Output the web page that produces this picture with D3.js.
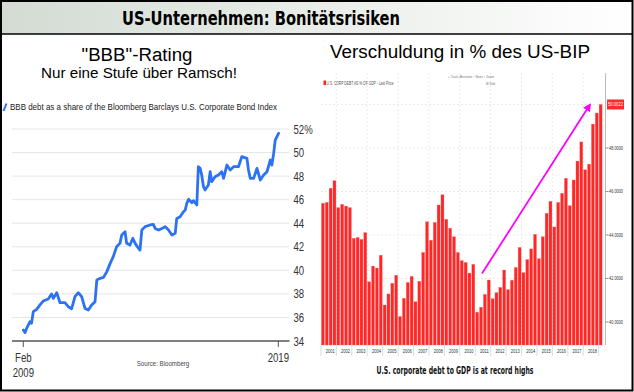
<!DOCTYPE html>
<html><head><meta charset="utf-8">
<script src="https://cdn.jsdelivr.net/npm/d3@7"></script>
<style>body{margin:0;background:#fff}svg{display:block}</style>
</head><body>
<svg id="c" width="634" height="392"></svg>
<script>
// ---------- DATA ----------
const pageTitle = "US-Unternehmen: Bonitätsrisiken";
const leftTitle = "\"BBB\"-Rating";
const leftSubtitle = "Nur eine Stufe über Ramsch!";
const leftLegend = "BBB debt as a share of the Bloomberg Barclays U.S. Corporate Bond Index";
const leftSource = "Source: Bloomberg";
const bbbDates = [2009.08,2009.15,2009.21,2009.34,2009.40,2009.47,2009.60,2009.73,2009.86,2010.05,
 2010.18,2010.25,2010.38,2010.51,2010.70,2010.83,2010.96,2011.09,2011.22,2011.35,
 2011.48,2011.61,2011.74,2011.87,2011.94,2012.07,2012.20,2012.33,2012.46,2012.58,
 2012.71,2012.84,2012.91,2013.04,2013.10,2013.23,2013.34,2013.43,2013.56,2013.62,
 2013.69,2013.82,2014.01,2014.14,2014.21,2014.34,2014.47,2014.60,2014.73,2014.86,
 2014.99,2015.05,2015.18,2015.31,2015.38,2015.44,2015.51,2015.64,2015.70,2015.83,
 2015.89,2015.96,2016.02,2016.09,2016.15,2016.28,2016.35,2016.41,2016.54,2016.67,
 2016.80,2016.87,2017.00,2017.13,2017.26,2017.45,2017.58,2017.78,2017.84,2017.91,
 2018.04,2018.17,2018.30,2018.43,2018.56,2018.69,2018.75,2018.82,2018.88,2019.01];
const bbbShare = [34.93,34.71,35.08,35.64,35.50,36.49,36.69,37.06,37.40,37.57,
 37.99,37.62,38.10,37.25,37.25,36.91,36.74,37.76,38.10,37.76,
 36.77,36.63,37.06,37.34,39.18,39.32,39.40,39.89,40.59,41.16,
 42.01,42.29,43.00,43.28,42.29,42.15,42.72,42.29,41.87,41.72,
 43.42,43.71,43.85,43.90,43.56,43.42,43.56,43.71,43.42,43.00,
 43.14,44.41,44.55,44.98,45.12,45.69,46.03,45.74,45.91,45.55,
 48.80,48.66,48.09,47.10,46.82,47.24,48.37,47.53,47.95,48.09,
 48.37,47.81,48.94,48.52,48.80,48.80,49.65,49.51,48.52,47.81,
 47.81,48.66,47.67,48.09,48.37,49.37,48.94,49.93,51.06,51.63];
const leftYTicks = [34,36,38,40,42,44,46,48,50,52];
const leftXTicks = [{t:2009.08, l1:"Feb", l2:"2009"}, {t:2019.0, l1:"2019", l2:""}];

const rightTitle = "Verschuldung in % des US-BIP";
const rightLegend = "U.S. CORP DEBT AS % OF GDP - Last Price";
const rightTools = "+ Track  ⁄ Annotate  ↑ News  ↕ Zoom";
const rightCaption = "U.S. corporate debt to GDP is at record highs";
const years = [2001,2002,2003,2004,2005,2006,2007,2008,2009,2010,2011,2012,2013,2014,2015,2016,2017,2018,2019];
const debtToGdp = [45.46,45.50,46.15,46.50,45.26,45.41,45.33,45.26,43.85,43.89,43.80,44.11,
 41.85,42.57,42.48,43.07,40.78,41.29,41.78,42.15,40.25,41.09,41.82,42.10,
 40.93,41.87,43.20,44.61,43.76,44.58,45.38,45.85,44.72,44.31,43.92,43.20,
 42.82,42.74,42.25,42.65,40.45,40.68,41.27,41.93,41.07,41.35,41.59,42.39,
 41.49,41.92,42.51,43.43,42.27,42.87,43.36,44.03,42.91,43.92,45.00,45.55,
 44.37,45.50,45.92,46.61,45.35,46.53,47.40,48.28,47.00,47.26,49.10,49.61,50.0022];
const rightYTicks = [40,42,44,46,48];
const lastLabel = "50.0022";
const yearLabels = ["2001","2002","2003","2004","2005","2006","2007","2008","2009","2010","2011","2012","2013","2014","2015","2016","2017","2018"];

// ---------- DRAW ----------
const svg = d3.select("#c");
const defs = svg.append("defs");
const grad = defs.append("linearGradient").attr("id","tg").attr("x1","0").attr("x2","1").attr("y1","0").attr("y2","0");
grad.append("stop").attr("offset","0").attr("stop-color","#d3dbd3");
grad.append("stop").attr("offset","1").attr("stop-color","#ffffff");
defs.append("marker").attr("id","ah").attr("viewBox","0 0 10 10").attr("refX",8).attr("refY",5)
  .attr("markerWidth",4.5).attr("markerHeight",4.5).attr("orient","auto")
  .append("path").attr("d","M0,0 L10,5 L0,10 z").attr("fill","#ff00ff");

// title band
svg.append("rect").attr("x",1).attr("y",1).attr("width",631).attr("height",33).attr("fill","url(#tg)");
svg.append("line").attr("x1",1).attr("x2",633).attr("y1",34).attr("y2",34).attr("stroke","#000").attr("stroke-width",1.5);
svg.append("text").attr("x",261).attr("y",25).attr("text-anchor","middle")
  .attr("font-family","'DejaVu Sans Condensed','DejaVu Sans',sans-serif").attr("font-weight","bold")
  .attr("font-size",19).attr("fill","#000").attr("textLength",278).attr("lengthAdjust","spacingAndGlyphs")
  .text(pageTitle);

const AR = "'Liberation Sans', Arial, sans-serif";
function narrow(g, x, y, str, size, sx, anchor, fill){
  return g.append("text").attr("transform",`translate(${x},${y}) scale(${sx},1)`)
    .attr("text-anchor",anchor||"start").attr("font-family",AR).attr("font-size",size)
    .attr("fill",fill||"#222").text(str);
}

// ---------- LEFT PANEL ----------
const L = svg.append("g");
L.append("text").attr("x",137).attr("y",61).attr("text-anchor","middle").attr("font-family",AR)
  .attr("font-size",18).attr("fill","#000").attr("textLength",111).attr("lengthAdjust","spacingAndGlyphs").text(leftTitle);
L.append("text").attr("x",139).attr("y",78).attr("text-anchor","middle").attr("font-family",AR)
  .attr("font-size",15).attr("fill","#000").attr("textLength",196).attr("lengthAdjust","spacingAndGlyphs").text(leftSubtitle);
L.append("line").attr("x1",3.5).attr("y1",111).attr("x2",6.5).attr("y2",103.5).attr("stroke","#2d6ff0").attr("stroke-width",2);
L.append("text").attr("x",10).attr("y",110).attr("font-family",AR).attr("font-size",9.5).attr("fill","#222")
  .attr("textLength",267).attr("lengthAdjust","spacingAndGlyphs").text(leftLegend);

const lx = d3.scaleLinear().domain([2009.08, 2019.0]).range([23.3, 278.3]);
const ly = d3.scaleLinear().domain([34, 52]).range([341, 129]);

L.selectAll("line.grid").data(leftYTicks.filter(v=>v>34)).join("line")
  .attr("x1",12).attr("x2",289).attr("y1",d=>ly(d)).attr("y2",d=>ly(d))
  .attr("stroke","#e6e6e6").attr("stroke-width",1);
leftYTicks.forEach(v=>{
  narrow(L, 293.5, ly(v)+4.5, v===52 ? "52%" : String(v), 12, 0.8, "start", "#333");
});
L.append("line").attr("x1",12).attr("x2",289.5).attr("y1",341).attr("y2",341).attr("stroke","#555").attr("stroke-width",1.6);
leftXTicks.forEach(t=>{
  L.append("line").attr("x1",lx(t.t)).attr("x2",lx(t.t)).attr("y1",341).attr("y2",347).attr("stroke","#555").attr("stroke-width",1);
  narrow(L, lx(t.t), 362, t.l1, 12, 0.8, "middle", "#333");
  if(t.l2) narrow(L, lx(t.t), 377, t.l2, 12, 0.8, "middle", "#333");
});
narrow(L, 163, 366, leftSource, 7.5, 0.82, "middle", "#444");

L.append("path").datum(bbbDates.map((d,i)=>[d,bbbShare[i]]))
  .attr("d", d3.line().x(d=>lx(d[0])).y(d=>ly(d[1])))
  .attr("fill","none").attr("stroke","#2d72f0").attr("stroke-width",2.8)
  .attr("stroke-linejoin","round").attr("stroke-linecap","round");

// ---------- RIGHT PANEL ----------
const R = svg.append("g");
R.append("text").attr("x",460).attr("y",58).attr("text-anchor","middle").attr("font-family",AR)
  .attr("font-size",18).attr("fill","#000").attr("textLength",260).attr("lengthAdjust","spacingAndGlyphs").text(rightTitle);

const quarters = [];
years.forEach(y=>{ [1,2,3,4].forEach(q=>{ if(quarters.length<debtToGdp.length) quarters.push(y+"Q"+q); }); });
const rx = d3.scaleBand().domain(quarters).range([321, 602.5]).paddingInner(0.22).paddingOuter(0.1);
const ry = d3.scaleLinear().domain([38.94, 51.45]).range([345, 73]);

// grid
const yearStarts = yearLabels.map(y=>y+"Q1");
R.selectAll("line.vg").data(yearStarts.filter((d,i)=>i%2===1)).join("line")
  .attr("x1",d=>rx(d)-0.5).attr("x2",d=>rx(d)-0.5).attr("y1",73).attr("y2",345)
  .attr("stroke","#e4e4e4").attr("stroke-dasharray","2,2").attr("stroke-width",0.8);
R.selectAll("line.hg").data(rightYTicks.concat([50])).join("line")
  .attr("x1",321).attr("x2",605).attr("y1",d=>ry(d)).attr("y2",d=>ry(d))
  .attr("stroke","#e4e4e4").attr("stroke-dasharray","2,2").attr("stroke-width",0.8);

// bars
R.selectAll("rect.bar").data(debtToGdp).join("rect")
  .attr("x",(d,i)=>rx(quarters[i])).attr("width",rx.bandwidth())
  .attr("y",d=>ry(d)).attr("height",d=>345-ry(d))
  .attr("fill","#ff2626").attr("stroke","#ff7a7a").attr("stroke-width",0.3);

// axis right
R.append("line").attr("x1",605.5).attr("x2",605.5).attr("y1",73).attr("y2",345).attr("stroke","#aaa").attr("stroke-width",0.8);
rightYTicks.forEach(v=>{
  R.append("line").attr("x1",605.5).attr("x2",608.5).attr("y1",ry(v)).attr("y2",ry(v)).attr("stroke","#666").attr("stroke-width",0.7);
  R.append("text").attr("x",609).attr("y",ry(v)+1.8).attr("font-family",AR).attr("font-size",5.2).attr("fill","#333")
    .attr("textLength",14).attr("lengthAdjust","spacingAndGlyphs").text(v.toFixed(4));
});
const lastV = debtToGdp[debtToGdp.length-1];
R.append("rect").attr("x",607).attr("y",ry(lastV)-5).attr("width",17).attr("height",10).attr("fill","#ff2a2a");
R.append("text").attr("x",608).attr("y",ry(lastV)+2).attr("font-family",AR).attr("font-size",5.5).attr("fill","#fff")
  .attr("textLength",15).attr("lengthAdjust","spacingAndGlyphs").text(lastLabel);

// x axis
R.append("line").attr("x1",321).attr("x2",605).attr("y1",345.5).attr("y2",345.5).attr("stroke","#ddd").attr("stroke-width",0.6);
yearLabels.forEach((y,i)=>{
  const x0 = rx(y+"Q1") - rx.step()*rx.paddingInner()/2;
  const x1 = x0 + rx.step()*4;
  R.append("line").attr("x1",x0).attr("x2",x0).attr("y1",346).attr("y2",356).attr("stroke","#cfcfcf").attr("stroke-width",0.7);
  if(i===yearLabels.length-1) R.append("line").attr("x1",x1).attr("x2",x1).attr("y1",346).attr("y2",356).attr("stroke","#cfcfcf").attr("stroke-width",0.7);
  R.append("text").attr("x",(x0+x1)/2+1.5).attr("y",352.5).attr("text-anchor","middle").attr("font-family",AR)
    .attr("font-size",5).attr("fill","#333").attr("textLength",9).attr("lengthAdjust","spacingAndGlyphs").text(y);
});

// legend
R.append("rect").attr("x",323.5).attr("y",80.5).attr("width",2.5).attr("height",4.5).attr("fill","#ff2020");
R.append("text").attr("x",326.5).attr("y",84.8).attr("font-family",AR).attr("font-size",5).attr("fill","#555")
  .attr("textLength",67).attr("lengthAdjust","spacingAndGlyphs").text(rightLegend);
R.append("text").attr("x",448).attr("y",77.5).attr("font-family",AR).attr("font-size",3.8).attr("fill","#777")
  .attr("textLength",46).attr("lengthAdjust","spacingAndGlyphs").text(rightTools);
R.append("text").attr("x",486).attr("y",85).attr("font-family",AR).attr("font-size",4).attr("fill","#666")
  .attr("textLength",9).attr("lengthAdjust","spacingAndGlyphs").text("W Yield");

// arrow
R.append("line").attr("x1",482).attr("y1",273.5).attr("x2",590).attr("y2",104.5)
  .attr("stroke","#ff00ff").attr("stroke-width",1.8).attr("marker-end","url(#ah)");

// caption
R.append("text").attr("x",455).attr("y",374).attr("text-anchor","middle")
  .attr("font-family","'DejaVu Sans Condensed','DejaVu Sans',sans-serif").attr("font-weight","bold")
  .attr("font-size",10.5).attr("fill","#111").attr("textLength",157).attr("lengthAdjust","spacingAndGlyphs")
  .text(rightCaption);

// outer border
svg.append("rect").attr("x",1).attr("y",1).attr("width",631.5).attr("height",389.5)
  .attr("fill","none").attr("stroke","#000").attr("stroke-width",2);
</script>
</body></html>
